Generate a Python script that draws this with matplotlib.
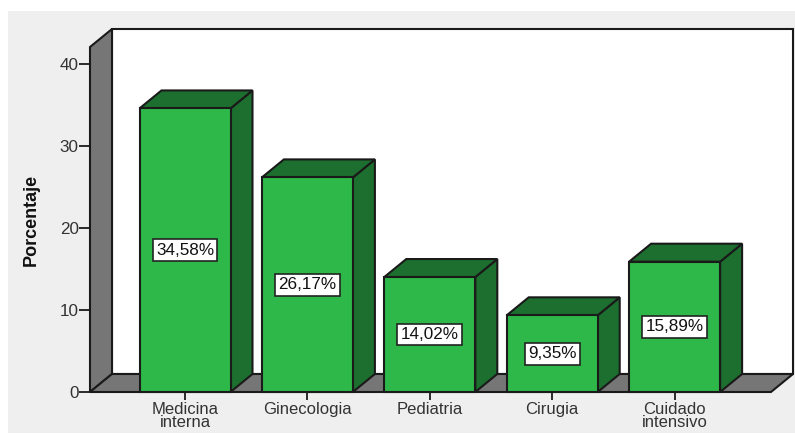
import matplotlib
matplotlib.use("Agg")
import matplotlib.pyplot as plt
from matplotlib.patches import Polygon, Rectangle

categories = ["Medicina\ninterna", "Ginecologia", "Pediatria", "Cirugia", "Cuidado\nintensivo"]
values = [34.58, 26.17, 14.02, 9.35, 15.89]
labels = ["34,58%", "26,17%", "14,02%", "9,35%", "15,89%"]
yticks = [0, 10, 20, 30, 40]

W, H = 795, 434
BG = "#EFEFEF"; GREEN = "#2EB84A"; DARK = "#1C6F2E"; WALL = "#767676"; EDGE = "#1A1A1A"
FONT = ["Liberation Sans", "DejaVu Sans"]

fig = plt.figure(figsize=(W / 100, H / 100), dpi=100, facecolor="white")
fig.add_artist(Rectangle((8 / W, 1 - 433 / H), (W - 8) / W, 422 / H, transform=fig.transFigure,
                         facecolor=BG, edgecolor="none", zorder=-5))

L, R, T, B = 90, 771, 47, 392
ax = fig.add_axes([L / W, 1 - B / H, (R - L) / W, (B - T) / H])
ax.patch.set_visible(False)
px_x = 122.4; px_y = 8.2
ax.set_xlim((L - 185) / px_x, (R - 185) / px_x)
ax.set_ylim(0, (B - T) / px_y)
x0, x1 = ax.get_xlim(); ymax = ax.get_ylim()[1]
dx, dy = 22 / px_x, 18 / px_y
bw = 91 / px_x

def poly(pts, fc, z, lw=1.5):
    ax.add_patch(Polygon(pts, closed=True, facecolor=fc, edgecolor=EDGE, lw=lw, zorder=z,
                         clip_on=False, joinstyle="miter"))

# back wall, side wall and floor
poly([(x0 + dx, dy), (x1 + dx, dy), (x1 + dx, ymax + dy), (x0 + dx, ymax + dy)], "white", 1)
poly([(x0, 0), (x0 + dx, dy), (x0 + dx, ymax + dy), (x0, ymax)], WALL, 2)
poly([(x0, 0), (x1, 0), (x1 + dx, dy), (x0 + dx, dy)], WALL, 2)

for i, (v, lab) in enumerate(zip(values, labels)):
    a, b = i - bw / 2, i + bw / 2
    z = 3 + i
    poly([(b, 0), (b + dx, dy), (b + dx, v + dy), (b, v)], DARK, z)
    poly([(a, v), (b, v), (b + dx, v + dy), (a + dx, v + dy)], DARK, z)
    poly([(a, 0), (b, 0), (b, v), (a, v)], GREEN, z)
    ax.text(i, v / 2, lab, ha="center", va="center", fontsize=12.3, family=FONT, color="#111111", zorder=20,
            bbox=dict(boxstyle="square,pad=0.2", facecolor="white", edgecolor="#222222", lw=1.2))

for s in ax.spines.values():
    s.set_visible(False)
ax.set_xticks(range(len(categories)))
ax.set_xticklabels(categories, fontsize=12, family=FONT, color="#333333", linespacing=0.82)
ax.set_yticks(yticks)
ax.set_yticklabels([str(t) for t in yticks], fontsize=12.3, family=FONT, color="#333333")
ax.tick_params(axis="x", length=6, width=1.3, color=EDGE, pad=1)
ax.tick_params(axis="y", length=8, width=1.3, color=EDGE, pad=0)

fig.text(31 / W, 1 - 220 / H, "Porcentaje", rotation=90, ha="center", va="center",
         fontsize=13, fontweight="bold", family=FONT, color="#111111")

fig.savefig("out.png", dpi=100, facecolor="white")
